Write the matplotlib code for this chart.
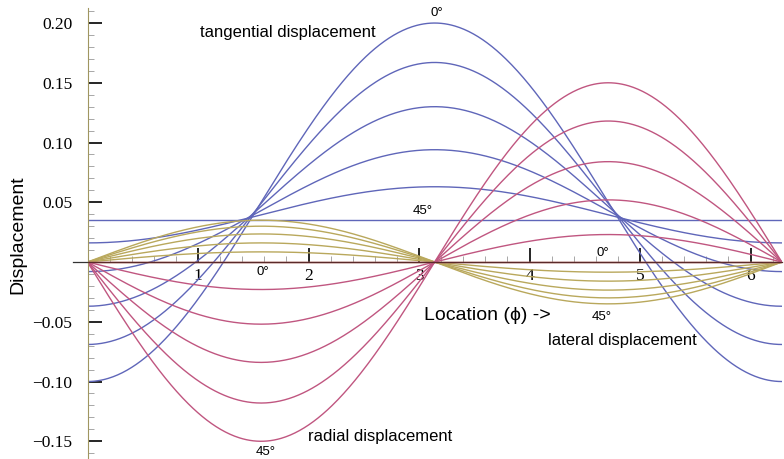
import numpy as np
import matplotlib
matplotlib.use("Agg")
import matplotlib.pyplot as plt
from matplotlib.ticker import MultipleLocator, FixedLocator, FuncFormatter

# values, one entry per curve (0 deg ... 45 deg)
tangential_at_0 = [-0.100, -0.069, -0.037, -0.008, 0.016, 0.035]
tangential_at_pi = [0.200, 0.167, 0.130, 0.094, 0.063, 0.035]
radial_peak = [0.0, 0.023, 0.052, 0.084, 0.118, 0.150]
lateral_peak = [0.0, 0.0085, 0.016, 0.0235, 0.030, 0.035]

y_ticks = [-0.15, -0.10, -0.05, 0.05, 0.10, 0.15, 0.20]
x_ticks = [1, 2, 3, 4, 5, 6]

blue = "#5f66b9"
red = "#c05680"
gold = "#b9a85c"
sans = ["Liberation Sans", "DejaVu Sans"]
serif = ["Liberation Serif", "DejaVu Serif"]

phi = np.linspace(0, 2 * np.pi, 600)

fig = plt.figure(figsize=(7.84, 4.59), dpi=100)
ax = fig.add_axes([87.5 / 784, 1 / 459, 694.3 / 784, 450.5 / 459])

for f0, fpi in zip(tangential_at_0, tangential_at_pi):
    mid = (f0 + fpi) / 2
    half = (fpi - f0) / 2
    ax.plot(phi, mid - half * np.cos(phi), color=blue, lw=1.0)
for a in lateral_peak:
    ax.plot(phi, a * np.sin(phi), color=gold, lw=1.0)
for a in radial_peak:
    ax.plot(phi, -a * np.sin(phi), color=red, lw=1.0)

ax.set_xlim(0, 2 * np.pi)
ax.set_ylim(-0.164, 0.213)

for s in ("top", "right"):
    ax.spines[s].set_visible(False)
ax.spines["bottom"].set_position(("data", 0))
ax.spines["bottom"].set_color("#5a2a2a")
ax.spines["bottom"].set_linewidth(0.9)
ax.spines["left"].set_color("#a09660")
ax.spines["left"].set_linewidth(0.8)
ax.plot([-0.13, 0], [0, 0], color="#333333", lw=0.9, clip_on=False)

ax.xaxis.set_major_locator(FixedLocator(x_ticks))
ax.xaxis.set_minor_locator(MultipleLocator(0.2))
ax.yaxis.set_major_locator(FixedLocator(y_ticks))
ax.yaxis.set_minor_locator(MultipleLocator(0.01))
ax.yaxis.set_major_formatter(FuncFormatter(lambda v, p: f"{v:.2f}".replace("-", "\u2212")))

ax.tick_params(which="major", direction="in", length=10, width=1.2, color="black")
ax.tick_params(which="minor", direction="in", length=4, width=0.6, color="#999999")
ax.tick_params(axis="y", which="major", pad=11)
ax.tick_params(axis="x", which="major", pad=4)
for lab in ax.get_xticklabels() + ax.get_yticklabels():
    lab.set_fontfamily(serif)
    lab.set_fontsize(12.5)

fig.text(18 / 784, 1 - 235 / 459, "Displacement", rotation=90, ha="center", va="center",
         fontsize=14, family=sans)
ax.text(3.62, -0.045, "Location (\u03d5) ->", ha="center", va="center", fontsize=14, family=sans)

ax.text(1.81, 0.192, "tangential displacement", ha="center", va="center", fontsize=12, family=sans)
ax.text(4.84, -0.066, "lateral displacement", ha="center", va="center", fontsize=12, family=sans)
ax.text(2.65, -0.146, "radial displacement", ha="center", va="center", fontsize=12, family=sans)

deg = [(3.16, 0.208, "0°"), (3.03, 0.043, "45°"), (1.59, -0.0085, "0°"),
       (4.66, 0.0075, "0°"), (4.65, -0.046, "45°"), (1.61, -0.159, "45°")]
for x, y, t in deg:
    ax.text(x, y, t, ha="center", va="center", fontsize=9.5, family=sans)

fig.savefig("out.png", dpi=100)
plt.close(fig)
